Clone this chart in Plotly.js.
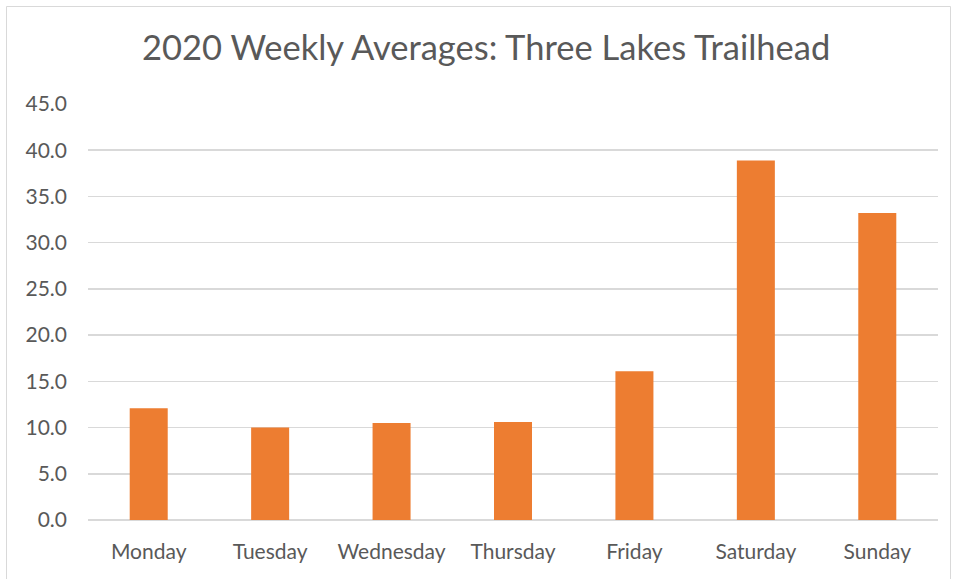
<!DOCTYPE html>
<html>
<head>
<meta charset="utf-8">
<script src="https://cdn.plot.ly/plotly-3.0.1.min.js"></script>
<style>html,body{margin:0;padding:0;background:#fff;}#chart{width:957px;height:579px;}</style>
</head>
<body>
<div id="chart"></div>
<script>
const days = ["Monday", "Tuesday", "Wednesday", "Thursday", "Friday", "Saturday", "Sunday"];
const averages = [12.1, 10.0, 10.5, 10.6, 16.1, 38.9, 33.2];
const chartTitle = "2020 Weekly Averages: Three Lakes Trailhead";

const textColor = "#595959";
const fontFam = "Lato, 'Open Sans', sans-serif";

const data = [{
  type: "bar",
  x: days,
  y: averages,
  marker: {color: "#ED7D31"},
  hoverinfo: "x+y"
}];

const layout = {
  width: 957,
  height: 579,
  margin: {l: 88, r: 19, t: 104, b: 59},
  paper_bgcolor: "#ffffff",
  plot_bgcolor: "#ffffff",
  bargap: 0.687,
  showlegend: false,
  title: {
    text: chartTitle,
    font: {family: fontFam, size: 34.5, color: textColor},
    xref: "container", x: 0.508, xanchor: "center",
    yref: "container", y: 1 - 48/579, yanchor: "middle"
  },
  xaxis: {
    type: "category",
    showgrid: false,
    showline: false,
    zeroline: false,
    ticks: "",
    ticklabelstandoff: 17,
    tickfont: {family: fontFam, size: 21, color: textColor}
  },
  yaxis: {
    range: [0, 45],
    dtick: 5,
    tick0: 0,
    tickformat: ".1f",
    showgrid: true,
    gridcolor: "#D9D9D9",
    gridwidth: 1.5,
    zeroline: true,
    zerolinecolor: "#D9D9D9",
    zerolinewidth: 1.5,
    showline: false,
    ticks: "",
    ticklabelstandoff: 20,
    tickfont: {family: fontFam, size: 21, color: textColor}
  },
  shapes: [{
    type: "rect",
    xref: "paper", yref: "paper",
    x0: (6.5 - 88) / 850, x1: (950.5 - 88) / 850,
    y0: (520 - 585) / 416, y1: (520 - 6.5) / 416,
    line: {color: "#D9D9D9", width: 1},
    fillcolor: "rgba(0,0,0,0)",
    layer: "below"
  }]
};

Plotly.newPlot("chart", data, layout, {displayModeBar: false, staticPlot: true});
</script>
</body>
</html>
